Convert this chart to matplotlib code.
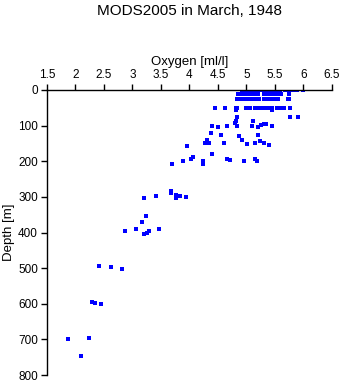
import numpy as np
import matplotlib.pyplot as plt

plt.rcParams['font.family'] = ['Liberation Sans', 'DejaVu Sans']

# oxygen [ml/l] and depth [m] of each bottle sample
oxygen_0 = [4.92, 4.97, 5.03, 5.08, 5.13, 5.20, 5.25, 5.29, 5.36, 5.39, 5.45, 5.50,
            5.55, 5.59, 5.68, 5.73, 5.78, 5.83, 5.89, 5.99]
oxygen_10 = [4.85, 4.92, 4.98, 5.05, 5.10, 5.15, 5.20, 5.30, 5.35, 5.40, 5.45, 5.50,
             5.55, 5.60, 5.75]
oxygen_25 = [4.83, 4.88, 4.95, 5.00, 5.05, 5.12, 5.18, 5.22, 5.30, 5.35, 5.40, 5.45,
             5.50, 5.55, 5.72, 5.75]
oxygen_50 = [4.45, 4.63, 4.81, 4.83, 5.00, 5.06, 5.15, 5.20, 5.23, 5.30, 5.35, 5.40,
             5.45, 5.53, 5.58, 5.66, 5.76]

deep_oxygen = [4.82, 4.81, 5.44,
               4.83, 5.76, 5.90,
               4.39, 4.50, 4.66, 4.80, 4.83, 4.82, 5.10, 5.12, 5.26, 5.30, 5.35, 5.44, 5.20,
               4.38, 4.56, 5.20, 4.86,
               4.30, 4.92, 5.23,
               4.27, 4.35, 4.61, 5.01, 5.15, 5.30, 5.40,
               3.95, 4.40, 4.07,
               4.03, 4.66, 4.71, 5.15,
               3.88, 4.23, 5.19, 4.95, 3.69, 4.23,
               3.20, 3.41, 3.68, 3.68, 3.77, 3.76, 3.83, 3.94,
               3.24, 3.17, 2.87, 3.06, 3.20, 3.25, 3.29, 3.47,
               2.42, 2.62, 2.82,
               2.29, 2.35, 2.44,
               1.87, 2.24, 2.10]
deep_depth = [55, 57, 57,
              76, 76, 75,
              101, 104, 100, 93, 100, 88, 100, 86, 98, 96, 96, 100, 104,
              121, 126, 126, 129,
              140, 140, 142,
              150, 150, 150, 152, 149, 148, 155,
              158, 180, 187,
              195, 195, 197, 195,
              200, 200, 200, 200, 208, 208,
              304, 298, 283, 288, 295, 304, 298, 300,
              354, 371, 397, 391, 403, 400, 397, 389,
              494, 496, 502,
              596, 598, 601,
              700, 696, 748]

oxygen = np.concatenate([oxygen_0, oxygen_10, oxygen_25, oxygen_50, deep_oxygen])
depth = np.concatenate([np.full(len(oxygen_0), 0), np.full(len(oxygen_10), 11),
                        np.full(len(oxygen_25), 25), np.full(len(oxygen_50), 50),
                        deep_depth])

fig = plt.figure(figsize=(3.43, 3.84), dpi=100)
ax = fig.add_axes([47/343, 1 - 375/384, 285/343, 285/384])

ax.plot(oxygen, depth, 's', color='#0000ff', markersize=2.3, markeredgewidth=0,
        antialiased=False)

ax.set_xlim(1.5, 6.5)
ax.set_ylim(800, 0)
ax.set_xticks(np.arange(1.5, 6.51, 0.5))
ax.set_xticklabels(['1.5', '2', '2.5', '3', '3.5', '4', '4.5', '5', '5.5', '6', '6.5'])
ax.set_yticks(np.arange(0, 801, 100))

ax.xaxis.tick_top()
ax.xaxis.set_label_position('top')
ax.spines['right'].set_visible(False)
ax.spines['bottom'].set_visible(False)
for s in ['top', 'left']:
    ax.spines[s].set_linewidth(1.0)
ax.tick_params(labelsize=8.5, length=4, width=1.0, pad=2.5)

ax.set_xlabel('Oxygen [ml/l]', fontsize=9.5, labelpad=3)
ax.set_ylabel('Depth [m]', fontsize=9.5, labelpad=2)
fig.text(189.5/343, 1 - 11/384, 'MODS2005 in March, 1948', ha='center', va='center', fontsize=11)

fig.savefig('out.png', dpi=100)
